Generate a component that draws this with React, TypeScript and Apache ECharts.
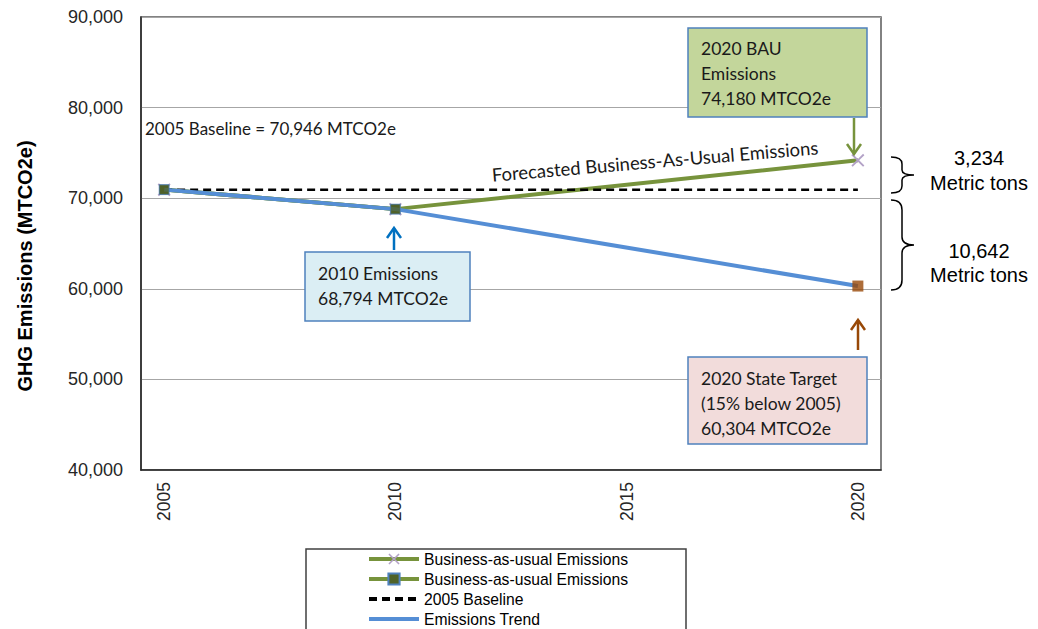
import React, { useEffect, useRef } from "react";
import * as echarts from "echarts";

// ---- data ----
const years = [2005, 2010, 2020];
const bauValues = [70946, 68794, 74180];
const bauMarkerYears = [2005, 2010];
const bauMarkerValues = [70946, 68794];
const baselineYears = [2005, 2020];
const baselineValues = [70946, 70946];
const trendValues = [70946, 68794, 60304];
const targetYears = [2020];
const targetValues = [60304];
const xTickLabels = [2005, 2010, 2015, 2020];
const yMin = 40000;
const yMax = 90000;
const yStep = 10000;

const seriesNames = [
  "Business-as-usual Emissions",
  "Business-as-usual Emissions ",
  "2005 Baseline",
  "Emissions Trend",
];

const GREEN = "#77933C";
const BLUE = "#558ED5";
const LAVENDER = "#B3A2C7";
const DARKGREEN = "#4F6228";
const BROWN = "#984807";
const BOXBORDER = "#4F81BD";
const CAL = "Lato, 'Open Sans', sans-serif";
const ARIAL = "'Liberation Sans', Arial, sans-serif";

const xSymbol =
  "path://M0,1L1,0L5,4L9,0L10,1L6,5L10,9L9,10L5,6L1,10L0,9L4,5Z";

function zip(xs: number[], ys: number[]) {
  return xs.map((x, i) => [x, ys[i]]);
}

echarts.graphic.registerShape(
  "brace1",
  echarts.graphic.extendPath(
    "M0,0 C7,0 11,2 11,7 L11,13 C11,16 14,18 23,18 C14,18 11,20 11,23 L11,29 C11,34 7,36 0,36",
    {}
  )
);
echarts.graphic.registerShape(
  "brace2",
  echarts.graphic.extendPath(
    "M0,0 C7,0 11,3 11,10 L11,37 C11,42 14,45 23,45 C14,45 11,48 11,53 L11,80 C11,87 7,90 0,90",
    {}
  )
);

function callout(
  x: number,
  y: number,
  w: number,
  h: number,
  fill: string,
  lines: string[],
  lineY: number[]
) {
  return {
    type: "group",
    z: 20,
    children: [
      {
        type: "rect",
        z: 20,
        shape: { x, y, width: w, height: h },
        style: { fill, stroke: BOXBORDER, lineWidth: 1.5 },
      },
      ...lines.map((t, i) => ({
        type: "text",
        z: 21,
        x: x + 13,
        y: lineY[i],
        style: {
          text: t,
          font: `17.5px ${CAL}`,
          fill: "#1a1a1a",
          textVerticalAlign: "middle",
        },
      })),
    ],
  };
}

function arrow(x: number, y1: number, y2: number, color: string) {
  // y1 = tail, y2 = tip
  const dir = y2 > y1 ? -1 : 1;
  return {
    type: "group",
    z: 20,
    children: [
      {
        type: "line",
        z: 20,
        shape: { x1: x, y1, x2: x, y2 },
        style: { stroke: color, lineWidth: 2.5 },
      },
      {
        type: "polyline",
        z: 20,
        shape: {
          points: [
            [x - 7, y2 + dir * 10],
            [x, y2],
            [x + 7, y2 + dir * 10],
          ],
        },
        style: { stroke: color, lineWidth: 2.5, fill: "none" },
      },
    ],
  };
}

export default function App() {
  const ref = useRef<HTMLDivElement>(null);

  useEffect(() => {
    if (!ref.current) return;
    const chart = echarts.init(ref.current, null, { renderer: "svg" });
    const option: any = {
      animation: false,
      backgroundColor: "#ffffff",
      grid: {
        left: 141,
        right: 157,
        top: 17,
        bottom: 159,
        show: true,
        borderColor: "#595959",
        borderWidth: 1.5,
      },
      legend: {
        data: seriesNames.map((n) => ({ name: n })),
        orient: "vertical",
        left: 367,
        top: 551,
        height: 120,
        padding: 0,
        itemWidth: 50,
        itemHeight: 14,
        itemGap: 4,
        lineStyle: { width: 4 },
        textStyle: {
          fontFamily: ARIAL,
          fontSize: 15.7,
          lineHeight: 14,
          color: "#000",
        },
      },
      xAxis: {
        type: "value",
        min: 2004.5,
        max: 2020.5,
        axisLine: { show: true, lineStyle: { color: "#262626", width: 1.5 } },
        axisTick: { show: false },
        splitLine: { show: false },
        axisLabel: {
          customValues: xTickLabels,
          rotate: 90,
          margin: 12,
          fontFamily: ARIAL,
          fontSize: 17.5,
          color: "#262626",
          formatter: (v: number) => String(v),
        },
      },
      yAxis: {
        type: "value",
        min: yMin,
        max: yMax,
        interval: yStep,
        axisLine: { show: true, lineStyle: { color: "#262626", width: 1.5 } },
        axisTick: { show: false },
        splitLine: { show: true, lineStyle: { color: "#A6A6A6", width: 1.2 } },
        axisLabel: {
          margin: 18,
          fontFamily: ARIAL,
          fontSize: 18,
          color: "#262626",
          formatter: (v: number) => v.toLocaleString("en-US"),
        },
      },
      series: [
        {
          name: seriesNames[0],
          type: "line",
          data: zip(years, bauValues),
          z: 2,
          symbol: xSymbol,
          symbolSize: 13,
          itemStyle: { color: LAVENDER },
          lineStyle: { color: GREEN, width: 4 },
        },
        {
          name: seriesNames[1],
          type: "line",
          data: zip(bauMarkerYears, bauMarkerValues),
          z: 2,
          symbol: "rect",
          symbolSize: 9,
          itemStyle: { color: DARKGREEN, borderColor: BOXBORDER, borderWidth: 1 },
          lineStyle: { color: GREEN, width: 4 },
        },
        {
          name: seriesNames[2],
          type: "line",
          data: zip(baselineYears, baselineValues),
          z: 3,
          symbol: "none",
          itemStyle: { color: "rgba(0,0,0,0)" },
          lineStyle: { color: "#000", width: 2.5, type: [8, 5] },
        },
        {
          name: seriesNames[3],
          type: "line",
          data: zip(years, trendValues),
          z: 4,
          symbol: "none",
          itemStyle: { color: "rgba(0,0,0,0)" },
          lineStyle: { color: BLUE, width: 4 },
        },
        {
          name: "BAU markers",
          type: "scatter",
          data: zip(bauMarkerYears, bauMarkerValues),
          z: 5,
          symbol: "rect",
          symbolSize: 10,
          itemStyle: { color: DARKGREEN, borderColor: BOXBORDER, borderWidth: 0.8 },
        },
        {
          name: "State Target",
          type: "scatter",
          data: zip(targetYears, targetValues),
          z: 5,
          symbol: "rect",
          symbolSize: 11,
          itemStyle: { color: BROWN },
        },
      ],
      graphic: [
        {
          type: "rect",
          shape: { x: 306, y: 549, width: 380, height: 95 },
          style: { fill: "none", stroke: "#404040", lineWidth: 1.5 },
        },
        {
          type: "text",
          x: 24.5,
          y: 266,
          rotation: Math.PI / 2,
          style: {
            text: "GHG Emissions (MTCO2e)",
            font: `bold 20px ${ARIAL}`,
            fill: "#000",
            textAlign: "center",
            textVerticalAlign: "middle",
          },
        },
        {
          type: "text",
          x: 145,
          y: 128,
          z: 20,
          style: {
            text: "2005 Baseline = 70,946 MTCO2e",
            font: `17px ${CAL}`,
            fill: "#1a1a1a",
            textVerticalAlign: "middle",
          },
        },
        {
          type: "text",
          x: 655,
          y: 161,
          z: 20,
          rotation: 0.084,
          style: {
            text: "Forecasted Business-As-Usual Emissions",
            font: `18.5px ${CAL}`,
            fill: "#1a1a1a",
            textAlign: "center",
            textVerticalAlign: "middle",
          },
        },
        callout(688, 28, 179, 89, "#C3D69B", ["2020 BAU", "Emissions", "74,180 MTCO2e"], [48, 73, 98]),
        callout(305, 252, 165, 69, "#DBEEF4", ["2010 Emissions", "68,794 MTCO2e"], [273, 298]),
        callout(688, 357, 179, 87, "#F2DCDB", ["2020 State Target", "(15% below 2005)", "60,304 MTCO2e"], [378, 403, 428]),
        arrow(854, 118, 154, GREEN),
        arrow(394, 250, 228, "#0070C0"),
        arrow(858, 350, 320, BROWN),
        {
          type: "brace1",
          x: 891,
          y: 157,
          style: { fill: "none", stroke: "#000", lineWidth: 1.5 },
        },
        {
          type: "brace2",
          x: 891,
          y: 200,
          style: { fill: "none", stroke: "#000", lineWidth: 1.5 },
        },
        {
          type: "text",
          x: 979,
          y: 158,
          style: { text: "3,234", font: `20px ${ARIAL}`, fill: "#000", textAlign: "center", textVerticalAlign: "middle" },
        },
        {
          type: "text",
          x: 979,
          y: 183,
          style: { text: "Metric tons", font: `20px ${ARIAL}`, fill: "#000", textAlign: "center", textVerticalAlign: "middle" },
        },
        {
          type: "text",
          x: 979,
          y: 251,
          style: { text: "10,642", font: `20px ${ARIAL}`, fill: "#000", textAlign: "center", textVerticalAlign: "middle" },
        },
        {
          type: "text",
          x: 979,
          y: 275,
          style: { text: "Metric tons", font: `20px ${ARIAL}`, fill: "#000", textAlign: "center", textVerticalAlign: "middle" },
        },
      ],
    };
    chart.setOption(option);
    return () => chart.dispose();
  }, []);

  return (
    <div
      ref={ref}
      style={{ position: "absolute", left: 0, top: 0, width: 1038, height: 629 }}
    />
  );
}
